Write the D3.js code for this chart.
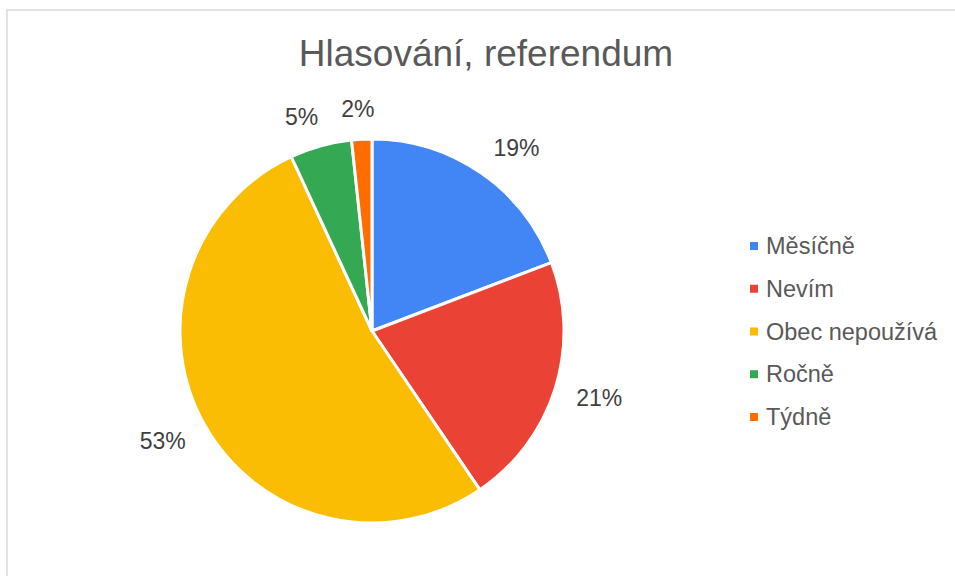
<!DOCTYPE html>
<html>
<head>
<meta charset="utf-8">
<script src="https://cdn.jsdelivr.net/npm/d3@7"></script>
<style>
  body { margin: 0; background: #fff; }
  svg { display: block; font-family: "Liberation Sans", Arial, sans-serif; }
</style>
</head>
<body>
<svg id="chart" width="955" height="576"></svg>
<script>
// chart data
const categories = ['Měsíčně', 'Nevím', 'Obec nepoužívá', 'Ročně', 'Týdně'];
const shares = [19.2, 21.3, 52.6, 5.2, 1.7];
const labels = ['19%', '21%', '53%', '5%', '2%'];
const colors = ['#4285F4', '#EA4335', '#FBBC04', '#34A853', '#FF6D01'];
const title = 'Hlasování, referendum';

const width = 955;
const height = 576;
const cx = 372;
const cy = 331;
const radius = 192;

const data = categories.map((c, i) => ({ name: c, value: shares[i], label: labels[i], color: colors[i] }));

const svg = d3.select('#chart');

// chart area frame
svg.append('rect')
  .attr('x', 7)
  .attr('y', 10)
  .attr('width', width + 10)
  .attr('height', height + 10)
  .attr('fill', '#fff')
  .attr('stroke', '#d9d9d9')
  .attr('stroke-width', 1.5);

// title
svg.append('text')
  .attr('x', 486)
  .attr('y', 66)
  .attr('text-anchor', 'middle')
  .attr('font-size', '37px')
  .attr('fill', '#595959')
  .text(title);

// pie
const pie = d3.pie().value(d => d.value).sort(null);
const arc = d3.arc().innerRadius(0).outerRadius(radius);
const arcs = pie(data);

const g = svg.append('g').attr('transform', `translate(${cx},${cy})`);

g.selectAll('path')
  .data(arcs)
  .enter()
  .append('path')
  .attr('d', arc)
  .attr('fill', d => d.data.color)
  .attr('stroke', '#fff')
  .attr('stroke-width', 3)
  .attr('stroke-linejoin', 'round');

// outside-end labels
const labelSize = 23;
const gap = 22;
g.selectAll('text.pct')
  .data(arcs)
  .enter()
  .append('text')
  .attr('class', 'pct')
  .attr('font-size', labelSize + 'px')
  .attr('fill', '#404040')
  .attr('text-anchor', 'middle')
  .text(d => d.data.label)
  .each(function (d) {
    const a = (d.startAngle + d.endAngle) / 2;
    const ux = Math.sin(a);
    const uy = -Math.cos(a);
    const w = this.getComputedTextLength();
    const h = labelSize * 0.72;
    // push the box sideways so its inner corner sits just off the rim
    const side = Math.sign(ux) * Math.min(1, Math.abs(ux) * 3);
    const x = ux * (radius + gap) + side * w / 2;
    const y = uy * (radius + gap) + uy * h / 2;
    d3.select(this)
      .attr('x', x)
      .attr('y', y + h / 2);
  });

// legend
const legendY = d3.scalePoint()
  .domain(categories)
  .range([246, 417]);

const legend = svg.append('g');
const rows = legend.selectAll('g')
  .data(data)
  .enter()
  .append('g')
  .attr('transform', d => `translate(750,${legendY(d.name)})`);

rows.append('rect')
  .attr('x', 0)
  .attr('y', -4)
  .attr('width', 8)
  .attr('height', 8)
  .attr('fill', d => d.color);

rows.append('text')
  .attr('x', 16)
  .attr('y', 8)
  .attr('font-size', '23.5px')
  .attr('fill', '#595959')
  .text(d => d.name);
</script>
</body>
</html>
